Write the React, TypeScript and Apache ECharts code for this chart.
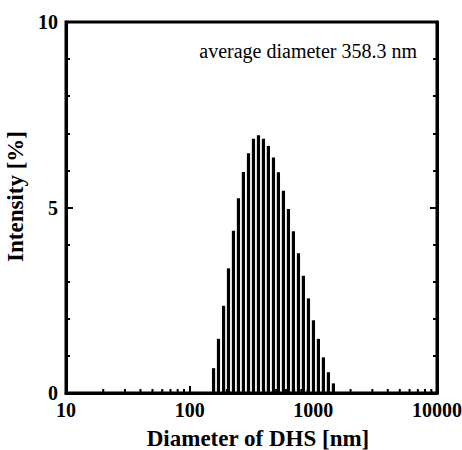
import React, { useEffect, useRef } from "react";
import * as echarts from "echarts";

// Bin diameters [nm]
const diameters = [156, 171, 188, 206, 226, 248, 272, 299, 328, 360, 395, 433, 476, 522, 573, 629, 690, 758, 831, 913, 1002, 1099, 1206, 1324, 1453];
// Intensity [%] per bin
const intensity = [0.67, 1.46, 2.35, 3.36, 4.37, 5.25, 5.96, 6.46, 6.85, 6.95, 6.85, 6.66, 6.35, 5.95, 5.45, 4.96, 4.36, 3.77, 3.16, 2.55, 1.96, 1.46, 0.96, 0.56, 0.26];
// Minor tick positions on the log axis
const minorTicks = [20, 30, 40, 50, 60, 70, 80, 90, 200, 300, 400, 500, 600, 700, 800, 900, 2000, 3000, 4000, 5000, 6000, 7000, 8000, 9000];
const annotation = "average diameter 358.3 nm";
const xTitle = "Diameter of DHS [nm]";
const yTitle = "Intensity [%]";

const FONT = "'Liberation Serif', 'Times New Roman', serif";

export default function App() {
  const ref = useRef<HTMLDivElement>(null);
  useEffect(() => {
    if (!ref.current) return;
    const chart = echarts.init(ref.current, null, { renderer: "svg" });
    const yAxisBase = {
      type: "value",
      min: 0,
      max: 10,
      interval: 5,
      splitLine: { show: false },
      axisLine: { show: true, lineStyle: { color: "#000", width: 3 } },
      axisTick: { show: true, inside: true, length: 7, lineStyle: { color: "#000", width: 2 } },
      minorTick: { show: true, splitNumber: 5, length: 4, lineStyle: { color: "#000", width: 2 } },
      minorSplitLine: { show: false },
    };
    chart.setOption({
      animation: false,
      backgroundColor: "#fff",
      grid: {
        left: 66,
        right: 25,
        top: 22,
        bottom: 57,
        containLabel: false,
        outerBoundsMode: "none",
        show: true,
        borderColor: "#000",
        borderWidth: 3,
        backgroundColor: "transparent",
      },
      xAxis: {
        type: "log",
        logBase: 10,
        min: 10,
        max: 10000,
        splitLine: { show: false },
        axisLine: { show: true, onZero: false, lineStyle: { color: "#000", width: 3 } },
        axisTick: { show: true, inside: true, length: 7, lineStyle: { color: "#000", width: 2 } },
        minorTick: { show: false },
        axisLabel: {
          color: "#000",
          fontFamily: FONT,
          fontWeight: "bold",
          fontSize: 20,
          margin: 7,
          formatter: (v: number) => String(Math.round(v)),
        },
        name: xTitle,
        nameLocation: "middle",
        nameGap: 34,
        nameTextStyle: {
          color: "#000",
          fontFamily: FONT,
          fontWeight: "bold",
          fontSize: 23,
          padding: [0, 0, 0, 13],
        },
      },
      yAxis: [
        {
          ...yAxisBase,
          position: "left",
          axisLabel: {
            color: "#000",
            fontFamily: FONT,
            fontWeight: "bold",
            fontSize: 20,
            margin: 8,
          },
          name: yTitle,
          nameLocation: "middle",
          nameGap: 33,
          nameTextStyle: {
            color: "#000",
            fontFamily: FONT,
            fontWeight: "bold",
            fontSize: 23,
            padding: [0, 0, 0, 22],
          },
        },
        {
          ...yAxisBase,
          position: "right",
          axisLabel: { show: false },
        },
      ],
      graphic: [
        {
          type: "text",
          x: 417,
          y: 51,
          style: {
            text: annotation,
            fill: "#000",
            fontFamily: FONT,
            fontSize: 20,
            fontWeight: "normal",
            textAlign: "right",
            textVerticalAlign: "middle",
          },
        },
      ],
      series: [
        {
          type: "custom",
          xAxisIndex: 0,
          yAxisIndex: 0,
          data: diameters.map((d, i) => [d, intensity[i]]),
          renderItem: (params: any, api: any) => {
            const top = api.coord([api.value(0), api.value(1)]);
            const base = api.coord([api.value(0), 0]);
            return {
              type: "rect",
              shape: { x: top[0] - 1.6, y: top[1], width: 3.2, height: base[1] - top[1] },
              style: { fill: "#000" },
            };
          },
          z: 1,
        },
        {
          type: "custom",
          xAxisIndex: 0,
          yAxisIndex: 0,
          data: minorTicks.map((v) => [v, 0]),
          renderItem: (params: any, api: any) => {
            const p = api.coord([api.value(0), 0]);
            return {
              type: "line",
              shape: { x1: p[0], y1: p[1], x2: p[0], y2: p[1] - 4 },
              style: { stroke: "#000", lineWidth: 2 },
            };
          },
          z: 3,
        },
      ],
    });
    return () => chart.dispose();
  }, []);
  return (
    <div
      ref={ref}
      style={{ position: "fixed", left: 0, top: 0, width: 462, height: 450, background: "#fff" }}
    />
  );
}
